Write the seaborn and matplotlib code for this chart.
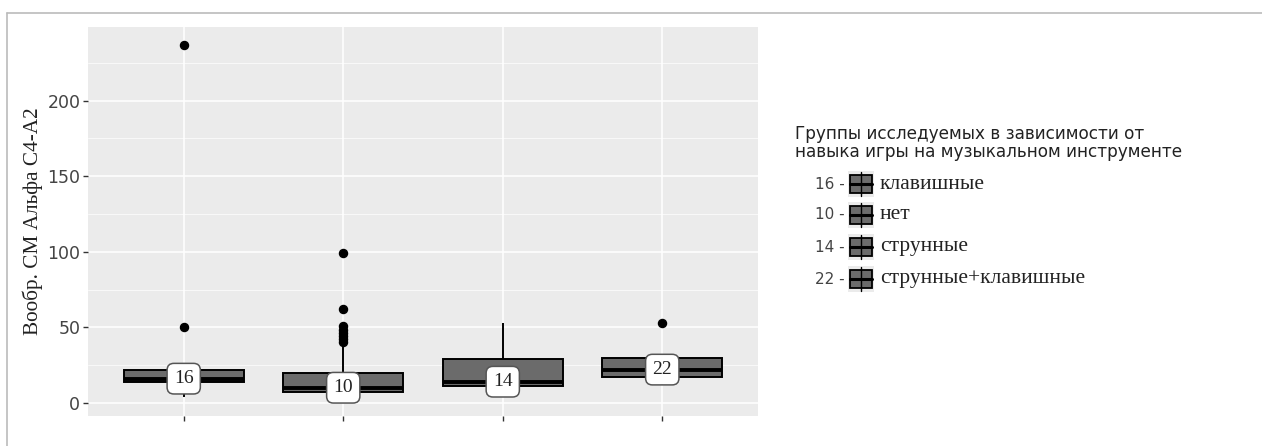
import numpy as np
import pandas as pd
import matplotlib
matplotlib.use("Agg")
import matplotlib.pyplot as plt
from matplotlib.patches import Rectangle
from matplotlib.lines import Line2D
import seaborn as sns

# Group names (legend order) and the label numbers shown next to each key
groups = ["клавишные", "нет", "струнные", "струнные+клавишные"]
legend_numbers = ["16", "10", "14", "22"]

# Observed values per group
vals_keys = [4, 10, 12, 13, 14, 14, 14.5, 15, 15, 15.5, 16, 17, 18, 19, 21,
             22, 22.5, 23, 24, 50, 237]
vals_none = [3, 4, 5, 5.5, 6, 6, 6.5, 6.5, 7, 7, 7, 7, 7.5, 8, 8, 8.5, 9, 9,
             9.5, 9.5, 10, 10, 10, 11, 12, 13, 14, 15, 16, 17, 18, 19, 19.5,
             20, 25, 31, 37, 40, 42, 44, 46, 48, 51, 62, 99]
vals_strings = [5, 8, 10, 11, 12, 13, 14, 17, 22, 29, 35, 44, 53]
vals_both = [12, 14, 16, 17, 19, 20, 22, 24, 27, 30, 30, 30.5, 53]

y_label = "Вообр. СМ Альфа С4-А2"
legend_title = "Группы исследуемых в зависимости от\nнавыка игры на музыкальном инструменте"
y_ticks = [0, 50, 100, 150, 200]

df = pd.concat([
    pd.DataFrame({"group": g, "value": v})
    for g, v in zip(groups, [vals_keys, vals_none, vals_strings, vals_both])
], ignore_index=True)
df["group"] = pd.Categorical(df["group"], categories=groups, ordered=True)

sns.set_theme(style="darkgrid", rc={
    "axes.facecolor": "#EBEBEB",
    "grid.color": "white",
    "axes.edgecolor": "none",
})
plt.rcParams["font.family"] = ["DejaVu Sans"]

BOX_GRAY = "#6b6b6b"
TEXT_GRAY = "#444444"

fig = plt.figure(figsize=(12.62, 4.46), dpi=100)
ax = fig.add_axes([88 / 1262, 30 / 446, (758 - 88) / 1262, (416 - 27) / 446])

sns.boxplot(
    data=df, x="group", y="value", ax=ax,
    color=BOX_GRAY, saturation=1, width=0.75, linecolor="black", linewidth=1.4,
    whis=1.5, showcaps=False,
    flierprops=dict(marker="o", markersize=5.8, markerfacecolor="black",
                    markeredgecolor="black"),
    medianprops=dict(color="black", linewidth=2.8),
)

# Median labels
med = df.groupby("group", observed=True)["value"].median()
for i, g in enumerate(groups):
    m = med[g]
    ax.text(i, m, f"{m:.0f}", ha="center", va="center", fontsize=14,
            family=["Liberation Serif"], color="#222222", zorder=6,
            bbox=dict(boxstyle="round,pad=0.35,rounding_size=0.35",
                      fc="white", ec="#555555", lw=1.1))

ax.set_xlim(-0.6, 3.6)
ax.set_ylim(-8.7, 248.7)
ax.set_yticks(y_ticks)
ax.set_yticks([25, 75, 125, 175, 225], minor=True)
ax.grid(which="major", color="white", linewidth=1.1)
ax.grid(which="minor", axis="y", color="white", linewidth=0.5)
ax.set_xticklabels([""] * len(groups))
ax.set_xlabel("")
ax.set_ylabel(y_label, family=["Liberation Serif"], fontsize=15.3, color="#222222",
              labelpad=3)
ax.tick_params(axis="both", which="major", length=3.5, width=1, color="#333333",
               labelsize=12.5, labelcolor=TEXT_GRAY, pad=2, left=True, bottom=True)
ax.tick_params(axis="both", which="minor", length=0)

# Outer frame lines
fig.add_artist(Line2D([7 / 1262, 1.0], [1 - 13 / 446, 1 - 13 / 446],
                      transform=fig.transFigure, color="#bbbbbb", lw=1.2))
fig.add_artist(Line2D([7 / 1262, 7 / 1262], [0, 1 - 13 / 446],
                      transform=fig.transFigure, color="#bbbbbb", lw=1.2))

# Legend
W, H = 1262, 446
fig.text(795 / W, 1 - 143 / H, legend_title, ha="left", va="center",
         fontsize=12.2, color="#222222", linespacing=1.0)
rows_y = [184, 215, 247, 279]
for num, name, yy in zip(legend_numbers, groups, rows_y):
    fig.text(845 / W, 1 - yy / H, f"{num} -", ha="right", va="center",
             fontsize=11, color=TEXT_GRAY)
    # key background
    fig.add_artist(Rectangle(((848) / W, 1 - (yy + 13) / H), 26 / W, 26 / H,
                             transform=fig.transFigure, fc="#EBEBEB", ec="none"))
    # whiskers
    fig.add_artist(Line2D([861 / W, 861 / W], [1 - (yy + 12) / H, 1 - (yy - 12) / H],
                          transform=fig.transFigure, color="black", lw=1))
    # box
    fig.add_artist(Rectangle((850 / W, 1 - (yy + 9) / H), 22 / W, 18 / H,
                             transform=fig.transFigure, fc=BOX_GRAY, ec="black",
                             lw=1.3))
    fig.add_artist(Line2D([850 / W, 872 / W], [1 - yy / H, 1 - yy / H],
                          transform=fig.transFigure, color="black", lw=2.2))
    fig.text(880 / W, 1 - yy / H, name, ha="left", va="center", fontsize=15.5,
             family=["Liberation Serif"], color="#222222")

fig.savefig("out.png", dpi=100, facecolor="white")
